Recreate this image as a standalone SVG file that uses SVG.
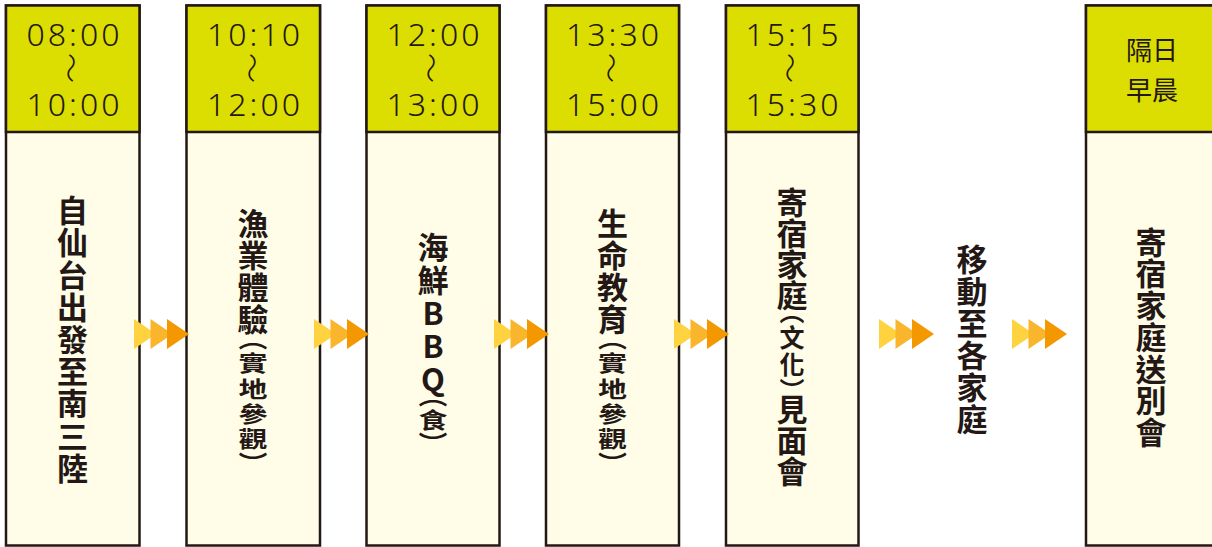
<svg xmlns="http://www.w3.org/2000/svg" width="1212" height="547" viewBox="0 0 1212 547">
<defs>
<style>
.body{fill:#FFFDE7;stroke:#231815;stroke-width:2.5}
.hdr{fill:#DCDD00;stroke:#231815;stroke-width:2.5}
.time{font-family:"Noto Sans","Liberation Sans",sans-serif;font-size:32px;font-weight:300;fill:#231815;text-anchor:middle;letter-spacing:3px}
.wave{font-family:"Noto Sans CJK TC","Noto Sans",sans-serif;font-size:30px;font-weight:300;fill:#231815;text-anchor:middle;dominant-baseline:central}
.hcjk{font-family:"Noto Sans CJK TC",sans-serif;font-size:26px;font-weight:400;fill:#231815;text-anchor:middle}
.title{font-family:"Noto Sans CJK TC","Noto Sans CJK JP",sans-serif;font-size:31px;font-weight:700;fill:#231815;writing-mode:vertical-rl;text-orientation:mixed}
.sm{font-size:29px;font-feature-settings:"vpal"}
.up{text-orientation:upright}
.a1{fill:#FFD23F}.a2{fill:#F9B52C}.a3{fill:#F39800}
</style>
<g id="arrowhead3">
<polygon class="a1" points="0,0 22,15 0,30"/>
<polygon class="a2" points="16.5,0 38.5,15 16.5,30"/>
<polygon class="a3" points="33,0 55,15 33,30"/>
</g>
</defs>

<g id="node-1">
<rect class="body" x="6" y="5.5" width="133.5" height="540"/>
<rect class="hdr" x="6" y="5.5" width="133.5" height="126.5"/>
<text class="time" x="74.5" y="46">08:00</text>
<text class="wave" transform="translate(73,68) rotate(90)">〜</text>
<text class="time" x="74.5" y="116">10:00</text>
<text class="title" x="72.5" y="195" style="letter-spacing:1.2px">自仙台出發至南三陸</text>
</g>

<g id="node-2">
<rect class="body" x="186.5" y="5.5" width="133.5" height="540"/>
<rect class="hdr" x="186.5" y="5.5" width="133.5" height="126.5"/>
<text class="time" x="255" y="46">10:10</text>
<text class="wave" transform="translate(253.5,68) rotate(90)">〜</text>
<text class="time" x="255" y="116">12:00</text>
<text class="title" x="253" y="207.5" style="letter-spacing:1px">漁業體驗</text>
<text class="title sm" transform="translate(253,338) scale(1,0.75)" x="0" y="0" style="letter-spacing:4.5px">（實地參觀）</text>
</g>

<g id="node-3">
<rect class="body" x="366.5" y="5.5" width="133" height="540"/>
<rect class="hdr" x="366.5" y="5.5" width="133" height="126.5"/>
<text class="time" x="434.5" y="46">12:00</text>
<text class="wave" transform="translate(433,68) rotate(90)">〜</text>
<text class="time" x="434.5" y="116">13:00</text>
<text class="title" x="433" y="231.5" style="letter-spacing:2px">海鮮<tspan class="up">BBQ</tspan></text>
<text class="title sm" transform="translate(433,395) scale(1,0.75)" x="0" y="0" style="letter-spacing:3.5px">（食）</text>
</g>

<g id="node-4">
<rect class="body" x="546" y="5.5" width="133" height="540"/>
<rect class="hdr" x="546" y="5.5" width="133" height="126.5"/>
<text class="time" x="614" y="46">13:30</text>
<text class="wave" transform="translate(612.5,68) rotate(90)">〜</text>
<text class="time" x="614" y="116">15:00</text>
<text class="title" x="612.5" y="207.5" style="letter-spacing:1px">生命教育</text>
<text class="title sm" transform="translate(612.5,338) scale(1,0.75)" x="0" y="0" style="letter-spacing:4.5px">（實地參觀）</text>
</g>

<g id="node-5">
<rect class="body" x="726" y="5.5" width="132.5" height="540"/>
<rect class="hdr" x="726" y="5.5" width="132.5" height="126.5"/>
<text class="time" x="793.5" y="46">15:15</text>
<text class="wave" transform="translate(792,68) rotate(90)">〜</text>
<text class="time" x="793.5" y="116">15:30</text>
<text class="title" x="792" y="186.5">寄宿家庭<tspan class="sm" style="font-size:25px;letter-spacing:2px">（文化）</tspan>見面會</text>
</g>

<g id="node-6">
<text class="title" x="972" y="243.5" style="letter-spacing:1px">移動至各家庭</text>
</g>

<g id="node-7">
<rect class="body" x="1086" y="5.5" width="134" height="540"/>
<rect class="hdr" x="1086" y="5.5" width="134" height="126.5"/>
<text class="hcjk" x="1152" y="60">隔日</text>
<text class="hcjk" x="1152" y="100">早晨</text>
<text class="title" x="1151" y="226.5" style="letter-spacing:0.7px">寄宿家庭送別會</text>
</g>

<g id="connectors">
<use href="#arrowhead3" x="134" y="319"/>
<use href="#arrowhead3" x="314" y="319"/>
<use href="#arrowhead3" x="494" y="319"/>
<use href="#arrowhead3" x="674" y="319"/>
<use href="#arrowhead3" x="879" y="319"/>
<use href="#arrowhead3" x="1012" y="319"/>
</g>
</svg>
